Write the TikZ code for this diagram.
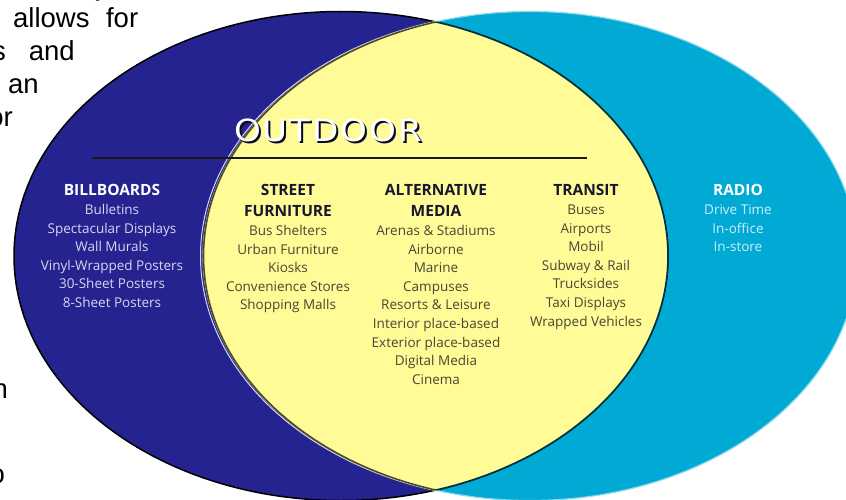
\documentclass[tikz,border=0pt]{standalone}
\usepackage{fontspec}
\setmainfont{Open Sans}
\newfontfamily\pagefont{Liberation Sans}
\newfontfamily\titlefont[FakeStretch=1.12, LetterSpace=6]{DejaVu Sans}

\definecolor{billblue}{RGB}{36,35,143}
\definecolor{radiocyan}{RGB}{0,170,212}
\definecolor{lensyellow}{RGB}{255,251,150}
\definecolor{headink}{RGB}{22,22,45}
\definecolor{itemink}{RGB}{72,70,52}
\definecolor{lensedge}{RGB}{82,74,28}
\definecolor{lilac}{RGB}{214,214,240}
\definecolor{icecyan}{RGB}{205,238,248}

\newcommand{\colhead}[1]{{\fontsize{15.5}{18.6}\selectfont\bfseries #1}}

\begin{document}
\begin{tikzpicture}[x=1pt,y=-1pt]
\tikzstyle{every node}+=[inner sep=0pt]
\tikzstyle{column}=[align=center, anchor=north, font=\fontsize{13.5}{18.6}\selectfont]
\tikzstyle{frag}=[font=\pagefont\fontsize{27.5}{33}\selectfont, text=black]
\tikzstyle{set}=[x radius=327, y radius=244.5]
\useasboundingbox (0,0) rectangle (846,500);
% the two sets
\fill [billblue] (341,256) ellipse [set];
\fill [radiocyan] (530,256) ellipse [set];
\draw [black, line width=1.5pt] (341,256) ellipse [set];
\draw [radiocyan!45!white, line width=1.2pt] (530,256) ellipse [set];
% overlap
\begin{scope}
\clip (341,256) ellipse [set];
\fill [lensyellow] (530,256) ellipse [set];
\draw [lilac, line width=1pt] (527.5,256) ellipse [set];
\draw [lensedge, line width=1.6pt] (530.5,256) ellipse [set];
\end{scope}
\begin{scope}
\clip (530,256) ellipse [set];
\draw [radiocyan!30!black, line width=1.6pt] (341,256) ellipse [set];
\end{scope}
% title and rule
\node (title-shadow) [anchor=base, text=black!75!billblue, font=\titlefont\fontsize{30.5}{30.5}\selectfont] at (330,144) {OUTDOOR};
\node (title) [anchor=base, text=white, font=\titlefont\fontsize{30.5}{30.5}\selectfont] at (328,142) {OUTDOOR};
\coordinate (rule-l) at (92,158);
\coordinate (rule-r) at (587,158);
\draw [black!90, line width=1.8pt] (rule-l) -- (rule-r);
% columns
\node (billboards) [column, text=lilac] at (112,184.5) {\colhead{\color{white}BILLBOARDS}\\Bulletins\\Spectacular Displays\\Wall Murals\\Vinyl-Wrapped Posters\\30-Sheet Posters\\8-Sheet Posters};
\node (street) [column, text=itemink] at (288,184.5) {\colhead{\color{headink}STREET}\\[2.4pt]\colhead{\color{headink}FURNITURE}\\Bus Shelters\\Urban Furniture\\Kiosks\\Convenience Stores\\Shopping Malls};
\node (alternative) [column, text=itemink] at (436,184.5) {\colhead{\color{headink}ALTERNATIVE}\\[2.4pt]\colhead{\color{headink}MEDIA}\\Arenas \& Stadiums\\Airborne\\Marine\\Campuses\\Resorts \& Leisure\\Interior place-based\\Exterior place-based\\Digital Media\\Cinema};
\node (transit) [column, text=itemink] at (586,184.5) {\colhead{\color{headink}TRANSIT}\\Buses\\Airports\\Mobil\\Subway \& Rail\\Trucksides\\Taxi Displays\\Wrapped Vehicles};
\node (radio) [column, text=icecyan] at (738,184.5) {\colhead{\color{white}RADIO}\\Drive Time\\In-office\\In-store};
% page text beside the figure
\node (frag-y) [frag, anchor=base] at (102,-4) {y};
\node (frag-allows) [frag, anchor=base west] at (13,28) {\makebox[125pt][s]{allows for}};
\node (frag-and) [frag, anchor=base east] at (75,61) {s\hspace{23pt}and};
\node (frag-an) [frag, anchor=base west] at (8,94) {an};
\node (frag-or) [frag, anchor=base east] at (13,127) {or};
\node (frag-n) [frag, anchor=base east] at (8,398) {n};
\node (frag-o) [frag, anchor=base east] at (5,483) {o};
\end{tikzpicture}
\end{document}
